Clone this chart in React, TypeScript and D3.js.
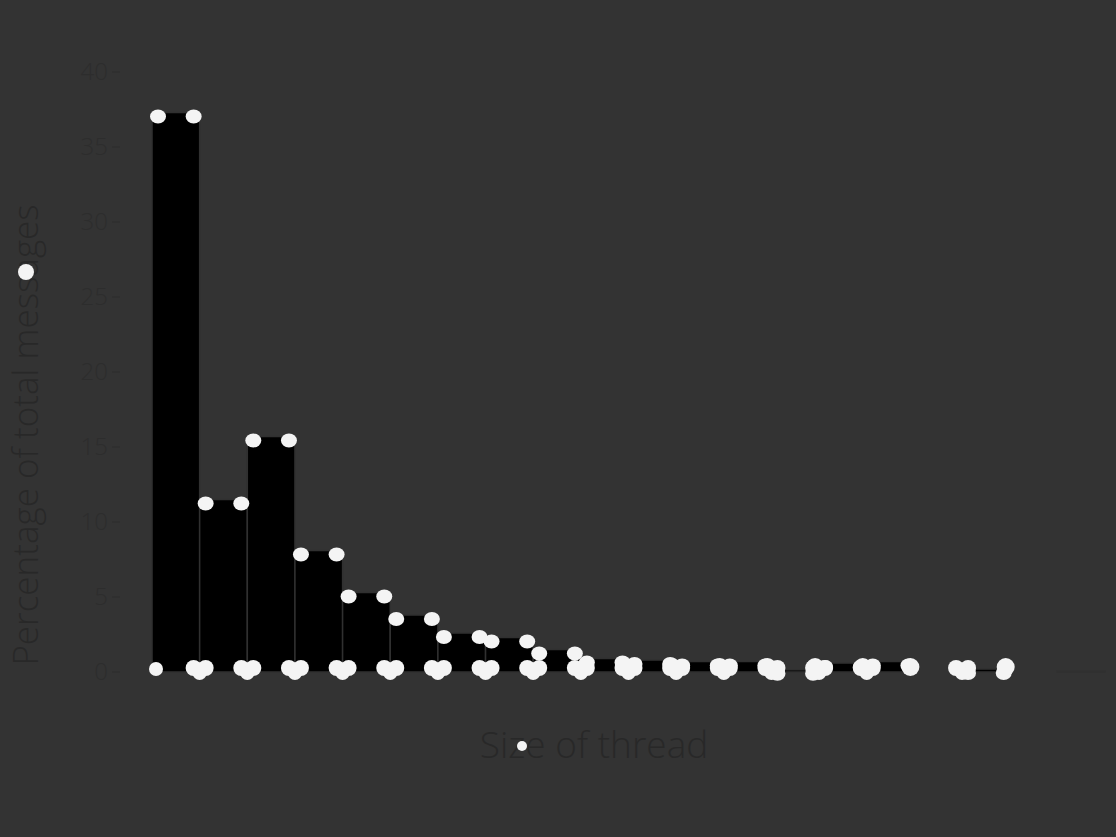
import React from 'react';
import * as d3 from 'd3';

// thread sizes (one bar per size) and share of all messages, in %
const threadSizes = [1, 2, 3, 4, 5, 6, 7, 8, 9, 10, 11, 12, 13, 14, 15, 16, 17, 18, 19, 20];
const percentages = [37.3, 11.5, 15.7, 8.1, 5.3, 3.8, 2.6, 2.3, 1.5, 0.9, 0.8, 0.7, 0.7, 0.15, 0.6, 0.7, 0, 0.2, 0, 0.05];
const yTicks = [0, 5, 10, 15, 20, 25, 30, 35, 40];

const W = 1116;
const H = 837;
const margin = { top: 72, right: 11, bottom: 165, left: 152 };

const App: React.FC = () => {
  const innerBottom = H - margin.bottom;

  const x = d3.scaleBand<number>()
    .domain(threadSizes)
    .range([margin.left, W - margin.right])
    .padding(0);

  const y = d3.scaleLinear()
    .domain([0, 40])
    .range([innerBottom, margin.top]);

  const bars = threadSizes.map((s, i) => ({
    size: s,
    value: percentages[i],
    x0: x(s) || 0,
    w: x.bandwidth(),
    top: y(percentages[i]),
  }));
  const marked = bars.filter(b => b.value >= 0.1);

  const textColor = '#282828';
  const blob = '#f4f4f4';
  const font = '"Open Sans", "DejaVu Sans", sans-serif';

  return (
    <>
      <style>{'body{margin:0;background:#333333}'}</style>
      <svg width={W} height={H} style={{ display: 'block', background: '#333333' }}>
        {/* y ticks */}
        {yTicks.map(t => (
          <g key={t} transform={`translate(0, ${y(t)})`}>
            <line x1={112} x2={120} stroke="#2c2c2c" strokeWidth={1} />
            <text
              x={108}
              dy="0.35em"
              textAnchor="end"
              fontFamily={font}
              fontSize={24}
              fontWeight={300}
              fill="#2d2d2d"
            >
              {t}
            </text>
          </g>
        ))}

        {/* bars */}
        {bars.map(b => (
          <rect
            key={b.size}
            x={b.x0}
            y={b.top}
            width={b.w}
            height={innerBottom - b.top}
            fill="#000"
            stroke="#303030"
            strokeWidth={b.value > 0 ? 1.5 : 0}
          />
        ))}

        {/* white blobs at the top corners of each bar */}
        {marked.map(b => (
          <g key={`t${b.size}`} fill={blob}>
            <ellipse cx={b.x0 + 6} cy={b.top + 4} rx={8} ry={7} />
            <ellipse cx={b.x0 + b.w - 6} cy={b.top + 4} rx={8} ry={7} />
          </g>
        ))}

        {/* heart-shaped blobs along the base, at bar edges */}
        {marked.map((b, i) => (
          <g key={`b${b.size}`} fill={blob}>
            {i === 0 ? (
              <ellipse cx={b.x0 + 4} cy={innerBottom - 3} rx={7} ry={7} />
            ) : (
              <>
                <circle cx={b.x0 - 6} cy={innerBottom - 4} r={8} />
                <circle cx={b.x0 + 6} cy={innerBottom - 4} r={8} />
                <circle cx={b.x0} cy={innerBottom + 1} r={7} />
              </>
            )}
          </g>
        ))}
        {marked.filter(b => b.value < 1).map(b => (
          <circle key={`r${b.size}`} cx={b.x0 + b.w - 4} cy={innerBottom - 5} r={9} fill={blob} />
        ))}

        {/* axis titles */}
        <text
          x={594}
          y={758}
          textAnchor="middle"
          fontFamily={font}
          fontSize={37}
          fontWeight={300}
          fill={textColor}
        >
          Size of thread
        </text>
        <circle cx={522} cy={746} r={5} fill={blob} />
        <text
          transform={`translate(38, ${435}) rotate(-90)`}
          textAnchor="middle"
          fontFamily={font}
          fontSize={35}
          fontWeight={300}
          fill={textColor}
        >
          Percentage of total messages
        </text>
        <circle cx={26} cy={272} r={8} fill={blob} />
      </svg>
    </>
  );
};

export default App;
